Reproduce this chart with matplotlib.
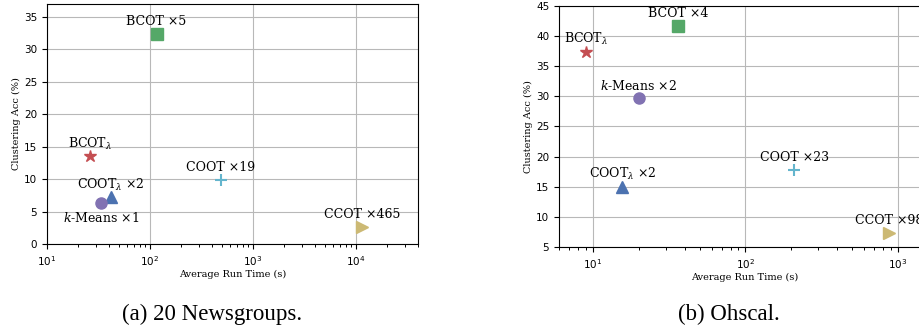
import numpy as np
import matplotlib
matplotlib.use('Agg')
import matplotlib.pyplot as plt

plt.rcParams['mathtext.fontset'] = 'dejavuserif'

#colours (seaborn deep)
blue = '#4C72B0'
green = '#55A868'
red = '#C44E52'
purple = '#8172B2'
yellow = '#CCB974'
cyan = '#64B5CD'

# 20 Newsgroups
names_a = ['BCOT ×5', r'BCOT$_\lambda$', r'COOT$_\lambda$ ×2', r'$k$-Means ×1', 'COOT ×19', 'CCOT ×465']
time_a = [116, 26, 41.5, 33.5, 490, 11400]
acc_a = [32.4, 13.5, 7.2, 6.3, 9.9, 2.7]
below_a = [False, False, False, True, False, False]

# Ohscal
names_b = ['BCOT ×4', r'BCOT$_\lambda$', r'$k$-Means ×2', r'COOT$_\lambda$ ×2', 'COOT ×23', 'CCOT ×98']
time_b = [36.2, 9.0, 20.0, 15.6, 209, 877]
acc_b = [41.7, 37.4, 29.7, 15.0, 17.8, 7.4]
below_b = [False, False, False, False, False, False]

markers_a = ['s', '*', '^', 'o', '+', '>']
colors_a = [green, red, blue, purple, cyan, yellow]
markers_b = ['s', '*', 'o', '^', '+', '>']
colors_b = [green, red, purple, blue, cyan, yellow]

fig = plt.figure(figsize=(9.19, 3.32), dpi=100)
ax1 = fig.add_axes([0.0511, 0.265, 0.4037, 0.723])
ax2 = fig.add_axes([0.6083, 0.256, 0.4037, 0.726])


def draw(ax, names, t, acc, below, mk, cl):
    for i in range(len(names)):
        ms = 9 if mk[i] in ['*', '+'] else 8
        mew = 1.5 if mk[i] == '+' else 1
        ax.plot(t[i], acc[i], marker=mk[i], color=cl[i], markersize=ms,
                markeredgewidth=mew, linestyle='none', zorder=3)
        off = -11 if below[i] else 9
        ax.annotate(names[i], (t[i], acc[i]), xytext=(0, off), textcoords='offset points',
                    ha='center', va='center', fontsize=9, family='DejaVu Serif', zorder=4)
    ax.set_xscale('log')
    ax.grid(True, which='major', color='#b8b8b8', linewidth=0.8)
    ax.set_axisbelow(True)
    ax.tick_params(labelsize=7.5)
    ax.tick_params(which='minor', length=2.5, width=0.7)
    ax.set_xlabel('Average Run Time (s)', family='DejaVu Serif', fontsize=7, labelpad=2)
    ax.set_ylabel('Clustering Acc (%)', family='DejaVu Serif', fontsize=7, labelpad=2)


draw(ax1, names_a, time_a, acc_a, below_a, markers_a, colors_a)
ax1.set_xlim(10, 4e4)
ax1.set_ylim(0, 37)
ax1.set_yticks(np.arange(0, 36, 5))

draw(ax2, names_b, time_b, acc_b, below_b, markers_b, colors_b)
ax2.set_xlim(6, 1620)
ax2.set_ylim(5, 45)
ax2.set_yticks(np.arange(5, 46, 5))

fig.text(0.231, 0.052, '(a) 20 Newsgroups.', ha='center', va='center',
         family='Liberation Serif', fontsize=16.5)
fig.text(0.793, 0.052, '(b) Ohscal.', ha='center', va='center',
         family='Liberation Serif', fontsize=16.5)

plt.savefig('out.png', dpi=100)
